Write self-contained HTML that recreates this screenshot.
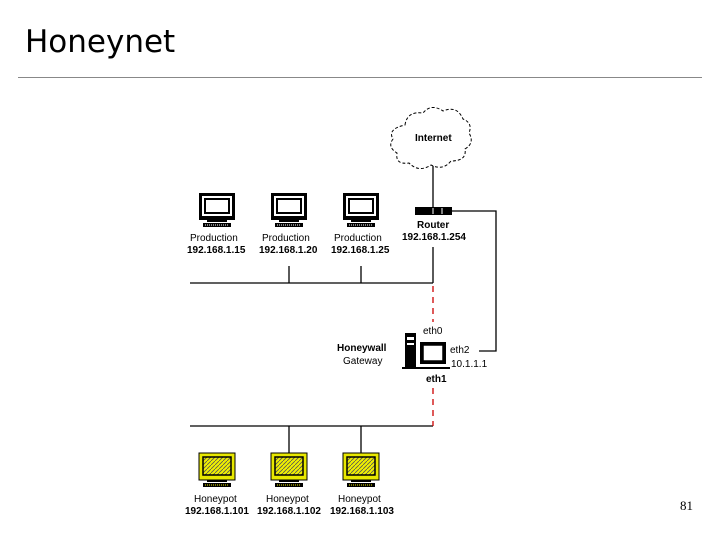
<!DOCTYPE html>
<html><head><style>
body{margin:0;width:720px;height:540px;background:#fff;position:relative;overflow:hidden;font-family:"Liberation Sans",sans-serif}
.t{position:absolute;font-size:10px;color:#000;white-space:nowrap;text-align:center}
</style></head><body>
<div style="position:absolute;left:25px;top:24px;font-size:31px;font-family:'DejaVu Sans','Liberation Sans',sans-serif">Honeynet</div>
<div style="position:absolute;left:18px;top:77px;width:684px;height:1px;background:#888"></div>
<div style="position:absolute;left:680px;top:498px;font-size:13px;font-family:'Liberation Serif',serif">81</div>
<svg width="720" height="540" style="position:absolute;left:0;top:0">
<defs>
<g id="mon"><rect x="0" y="0" width="36" height="27" fill="#000"/><rect x="3" y="3" width="30" height="20" fill="#fff"/><rect x="6" y="6" width="24" height="14" fill="#fff" stroke="#000" stroke-width="2"/><rect x="8" y="27" width="20" height="2" fill="#000"/><rect x="4" y="30" width="28" height="4" fill="#000"/><line x1="6" y1="32" x2="30" y2="32" stroke="#fff" stroke-dasharray="1 1"/></g>
<pattern id="h" width="4" height="4" patternUnits="userSpaceOnUse"><rect width="4" height="4" fill="#f0f000"/><line x1="0" y1="4" x2="4" y2="0" stroke="#555" stroke-width="0.8"/></pattern>
<g id="hp"><rect x="0" y="0" width="36" height="27" fill="#e8e800" stroke="#000"/><rect x="4" y="4" width="28" height="18" fill="url(#h)" stroke="#000" stroke-width="1.5"/><rect x="8" y="27" width="20" height="2" fill="#000"/><rect x="4" y="30" width="28" height="4" fill="#000"/><line x1="6" y1="32" x2="30" y2="32" stroke="#ee0" stroke-dasharray="1 1"/></g>
</defs>
<path d="M405,125 q2,-14 18,-12 q8,-10 20,-2 q14,-6 20,8 q10,4 6,14 q6,10 -4,16 q2,12 -14,12 q-8,10 -20,4 q-12,8 -22,-2 q-14,2 -12,-10 q-10,-6 -4,-14 q-6,-10 12,-14z" fill="#fff" stroke="#000" stroke-dasharray="3 2"/>
<use href="#mon" x="199" y="193"/><use href="#mon" x="271" y="193"/><use href="#mon" x="343" y="193"/>
<use href="#hp" x="199" y="453"/><use href="#hp" x="271" y="453"/><use href="#hp" x="343" y="453"/>
<g stroke="#000" stroke-width="1.3" fill="none">
<line x1="433" y1="166" x2="433" y2="207"/>
<line x1="433" y1="247" x2="433" y2="283"/>
<line x1="190" y1="283" x2="433" y2="283"/>
<line x1="289" y1="266" x2="289" y2="283"/><line x1="361" y1="266" x2="361" y2="283"/>
<polyline points="452,211 496,211 496,351 479,351"/>
<line x1="190" y1="426" x2="433" y2="426"/>
<line x1="289" y1="426" x2="289" y2="453"/><line x1="361" y1="426" x2="361" y2="453"/>
</g>
<g stroke="#c00" stroke-width="1.3" stroke-dasharray="6 5">
<line x1="433" y1="286" x2="433" y2="322"/><line x1="433" y1="388" x2="433" y2="426"/>
</g>
<rect x="415" y="207" width="37" height="8" fill="#000"/><line x1="433" y1="208" x2="433" y2="214" stroke="#fff"/><line x1="442" y1="208" x2="442" y2="214" stroke="#fff"/>
<rect x="405" y="333" width="11" height="35" fill="#000"/><rect x="407" y="337" width="7" height="3" fill="#fff"/><rect x="407" y="343" width="7" height="2" fill="#fff"/>
<rect x="420" y="342" width="26" height="22" fill="#000"/><rect x="423" y="345" width="20" height="16" fill="#fff" stroke="#000" stroke-width="1.5"/>
<rect x="402" y="367" width="48" height="2" fill="#000"/>
</svg>
<div class="t" style="left:415px;top:133px;font-weight:bold;font-size:10px">Internet</div>
<div class="t" style="left:417px;top:220px;font-weight:bold">Router</div>
<div class="t" style="left:402px;top:232px;font-weight:bold">192.168.1.254</div>
<div class="t" style="left:190px;top:233px">Production</div><div class="t" style="left:187px;top:245px;font-weight:bold">192.168.1.15</div>
<div class="t" style="left:262px;top:233px">Production</div><div class="t" style="left:259px;top:245px;font-weight:bold">192.168.1.20</div>
<div class="t" style="left:334px;top:233px">Production</div><div class="t" style="left:331px;top:245px;font-weight:bold">192.168.1.25</div>
<div class="t" style="left:337px;top:343px;font-weight:bold">Honeywall</div>
<div class="t" style="left:343px;top:356px">Gateway</div>
<div class="t" style="left:423px;top:326px">eth0</div>
<div class="t" style="left:450px;top:345px">eth2</div>
<div class="t" style="left:451px;top:359px">10.1.1.1</div>
<div class="t" style="left:426px;top:374px;font-weight:bold">eth1</div>
<div class="t" style="left:194px;top:494px">Honeypot</div><div class="t" style="left:185px;top:506px;font-weight:bold">192.168.1.101</div>
<div class="t" style="left:266px;top:494px">Honeypot</div><div class="t" style="left:257px;top:506px;font-weight:bold">192.168.1.102</div>
<div class="t" style="left:338px;top:494px">Honeypot</div><div class="t" style="left:330px;top:506px;font-weight:bold">192.168.1.103</div>
</body></html>
